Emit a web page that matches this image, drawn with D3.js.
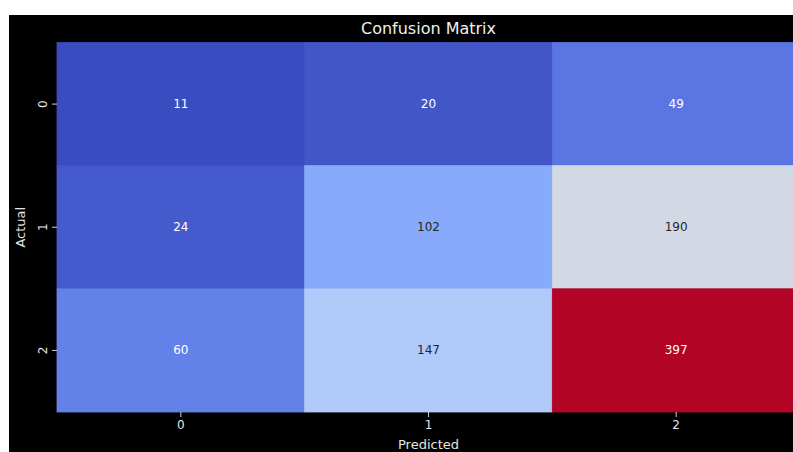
<!DOCTYPE html>
<html>
<head>
<meta charset="utf-8">
<script src="https://cdn.jsdelivr.net/npm/d3@7"></script>
<style>
  html, body { margin: 0; padding: 0; background: #fff; }
  svg { display: block; }
  text { font-family: "DejaVu Sans", sans-serif; }
</style>
</head>
<body>
<svg id="chart" width="793" height="452"></svg>
<script>
// Confusion matrix counts: rows = actual class, columns = predicted class
const actualLabels = ["0", "1", "2"];
const predictedLabels = ["0", "1", "2"];
const row0 = [11, 20, 49];
const row1 = [24, 102, 190];
const row2 = [60, 147, 397];
const matrix = [row0, row1, row2];

// coolwarm colour stops (0, 0.1, ..., 1)
const coolwarmStops = ["#3b4cc0", "#5977e3", "#7b9ff9", "#9ebeff", "#c0d4f5",
  "#dddcdc", "#f2cbb7", "#f7ac8e", "#ee8468", "#d65244", "#b40426"];

const svg = d3.select("#chart");
const W = 793, H = 452;

// white page with a dark figure panel
svg.append("rect").attr("width", W).attr("height", H).attr("fill", "#fff");
svg.append("rect").attr("x", 9).attr("y", 15).attr("width", W - 9).attr("height", H - 15).attr("fill", "#000");

const plot = { left: 57, right: 800, top: 42.5, bottom: 412 };

const x = d3.scaleBand().domain(predictedLabels).range([plot.left, plot.right]);
const y = d3.scaleBand().domain(actualLabels).range([plot.top, plot.bottom]);

const flat = [];
matrix.forEach((r, i) => r.forEach((v, j) => flat.push({ a: actualLabels[i], p: predictedLabels[j], v })));

const [vmin, vmax] = d3.extent(flat, d => d.v);
const color = d3.scaleSequential(d3.piecewise(d3.interpolateRgb, coolwarmStops))
  .domain([vmin, vmax]);

// relative luminance decides light or dark annotation text
function luminance(c) {
  const rgb = d3.rgb(c);
  const f = v => { v /= 255; return v <= 0.03928 ? v / 12.92 : Math.pow((v + 0.055) / 1.055, 2.4); };
  return 0.2126 * f(rgb.r) + 0.7152 * f(rgb.g) + 0.0722 * f(rgb.b);
}

const cells = svg.append("g");
cells.selectAll("rect")
  .data(flat)
  .join("rect")
  .attr("x", d => x(d.p))
  .attr("y", d => y(d.a))
  .attr("width", x.bandwidth())
  .attr("height", y.bandwidth())
  .attr("fill", d => color(d.v))
  .attr("stroke", d => color(d.v))
  .attr("stroke-width", 0.8);

cells.selectAll("text")
  .data(flat)
  .join("text")
  .attr("x", d => x(d.p) + x.bandwidth() / 2)
  .attr("y", d => y(d.a) + y.bandwidth() / 2)
  .attr("text-anchor", "middle")
  .attr("dominant-baseline", "central")
  .attr("font-size", 12)
  .attr("fill", d => luminance(color(d.v)) > 0.408 ? "#262626" : "#fff")
  .text(d => d.v);

// axes
const tickColor = "#d0d0d0";
const xAxis = svg.append("g")
  .attr("transform", `translate(0,${plot.bottom})`)
  .call(d3.axisBottom(x).tickSize(5).tickPadding(3));
xAxis.select(".domain").remove();
xAxis.selectAll("line").attr("stroke", tickColor);
xAxis.selectAll("text").attr("fill", "#e6e6e6").attr("font-size", 12)
  .attr("font-family", "DejaVu Sans, sans-serif");

const yAxis = svg.append("g")
  .attr("transform", `translate(${plot.left},0)`)
  .call(d3.axisLeft(y).tickSize(5).tickPadding(3));
yAxis.select(".domain").remove();
yAxis.selectAll("line").attr("stroke", tickColor);
yAxis.selectAll("text")
  .attr("fill", "#e6e6e6").attr("font-size", 12)
  .attr("font-family", "DejaVu Sans, sans-serif")
  .attr("text-anchor", "middle")
  .attr("dy", null)
  .attr("dominant-baseline", "auto")
  .attr("x", null)
  .attr("transform", "translate(-10,0) rotate(-90)")
  .attr("y", 0);

// titles
svg.append("text")
  .attr("x", (plot.left + plot.right) / 2)
  .attr("y", 34)
  .attr("text-anchor", "middle")
  .attr("font-size", 16)
  .attr("fill", "#f0f0f0")
  .text("Confusion Matrix");

svg.append("text")
  .attr("x", (plot.left + plot.right) / 2)
  .attr("y", 449)
  .attr("text-anchor", "middle")
  .attr("font-size", 13)
  .attr("fill", "#e6e6e6")
  .text("Predicted");

svg.append("text")
  .attr("transform", `translate(25,${(plot.top + plot.bottom) / 2}) rotate(-90)`)
  .attr("text-anchor", "middle")
  .attr("font-size", 13)
  .attr("fill", "#e6e6e6")
  .text("Actual");
</script>
</body>
</html>
